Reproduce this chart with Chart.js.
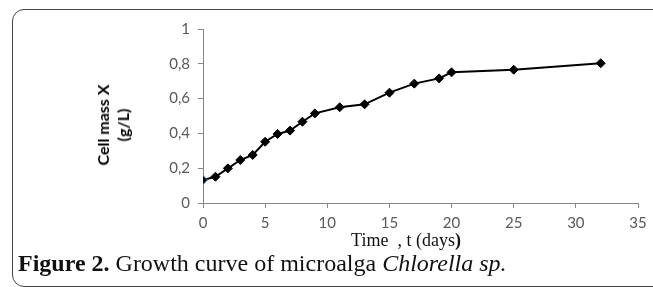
<!DOCTYPE html>
<html>
<head>
<meta charset="utf-8">
<script src="https://cdn.jsdelivr.net/npm/chart.js@4"></script>
<style>
  html, body { margin: 0; padding: 0; background: #fff; }
  #wrap { position: relative; width: 653px; height: 287px; overflow: hidden; }
  #frame {
    position: absolute; left: 12px; top: 9px; width: 660px; height: 276px;
    border: 1px solid #444; border-radius: 12px;
  }
  #chart { position: absolute; left: 0; top: 0; }
  .txt { position: absolute; white-space: nowrap; color: #111; }
  #ytitle {
    left: 113px; top: 125px; font: bold 16px Lato, sans-serif; color: #000;
    text-align: center; line-height: 20px;
    transform: translate(-50%, -50%) rotate(-90deg);
  }
  #xtitle { left: 406px; top: 230px; transform: translateX(-50%); font: 18px "Liberation Serif", serif; }
  #caption { left: 18px; top: 250px; font: 24px "Liberation Serif", serif; }
</style>
</head>
<body>
<div id="wrap">
  <div id="frame"></div>
  <canvas id="chart" width="653" height="287"></canvas>
  <div class="txt" id="ytitle">Cell mass X<br>(g/L)</div>
  <div class="txt" id="xtitle">Time &nbsp;, t (days<b>)</b></div>
  <div class="txt" id="caption"><b>Figure 2.</b> Growth curve of microalga <i>Chlorella sp.</i></div>
</div>
<script>
const days = [0, 1, 2, 3, 4, 5, 6, 7, 8, 9, 11, 13, 15, 17, 19, 20, 25, 32];
const cellMass = [0.132, 0.151, 0.199, 0.247, 0.276, 0.352, 0.397, 0.416, 0.467, 0.515,
  0.55, 0.567, 0.634, 0.686, 0.716, 0.751, 0.766, 0.803];

const axisColor = '#868686';
const tickFont = { family: 'Lato, sans-serif', size: 15 };

new Chart('chart', {
  type: 'line',
  data: {
    datasets: [{
      data: days.map((d, i) => ({ x: d, y: cellMass[i] })),
      borderColor: '#000',
      borderWidth: 2,
      pointStyle: 'rectRot',
      pointRadius: 4.5,
      pointBackgroundColor: '#000',
      pointBorderColor: days.map((d, i) => i === 0 ? '#4a7ebb' : '#000'),
      pointBorderWidth: 1,
      tension: 0
    }]
  },
  options: {
    responsive: false,
    animation: false,
    layout: { padding: { left: 100, top: 29, right: 15, bottom: 0 } },
    plugins: { legend: { display: false }, tooltip: { enabled: false } },
    scales: {
      x: {
        type: 'linear',
        min: 0,
        max: 35,
        afterFit: s => { s.height = 287 - 203; },
        border: { display: true, color: axisColor },
        grid: { drawOnChartArea: false, color: axisColor, tickLength: 5 },
        ticks: { stepSize: 5, color: '#595959', font: tickFont, padding: 6, maxRotation: 0 }
      },
      y: {
        min: 0,
        max: 1,
        afterFit: s => { s.width = 203 - 100; },
        border: { display: true, color: axisColor },
        grid: { drawOnChartArea: false, color: axisColor, tickLength: 5 },
        ticks: {
          stepSize: 0.2, color: '#595959', font: tickFont, padding: 8,
          callback: v => String(Math.round(v * 10) / 10).replace('.', ',')
        }
      }
    }
  }
});
</script>
</body>
</html>
